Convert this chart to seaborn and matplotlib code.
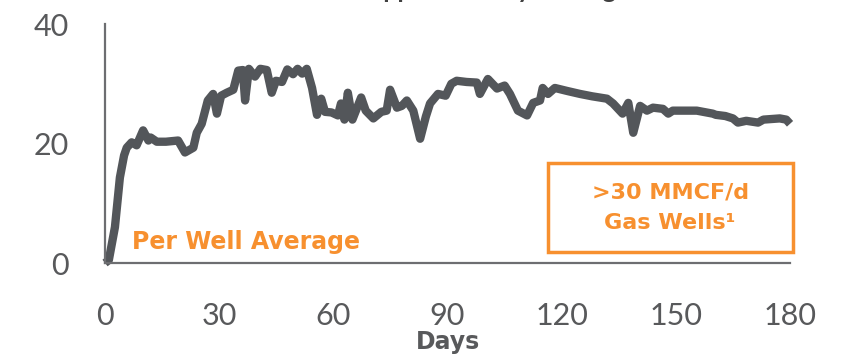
import matplotlib
matplotlib.use("Agg")
import matplotlib.pyplot as plt
from matplotlib.patches import Rectangle
import seaborn as sns
import pandas as pd

# Average daily gas rate per well over the first 180 days
days = [0, 1, 2.6, 3.9, 5, 5.7, 7, 8.3, 10, 11.4, 12, 13.6, 16, 19.2, 21, 23.2,
        24.1, 25.4, 27, 28.4, 29.4, 30.5, 32, 33.7, 35, 36.2, 36.8, 37.8, 39.4,
        40.8, 42.5, 43.8, 44.9, 46.5, 47.9, 49.4, 50.6, 51.8, 53, 54.4, 55.7,
        56.8, 57.8, 59.5, 61.2, 62, 62.9, 63.8, 65, 67.3, 68.5, 70.5, 72.6, 74,
        74.9, 76.7, 78, 79.3, 81, 82.8, 84.3, 85.4, 87.5, 89.5, 91, 92.4, 95,
        97.7, 98.5, 100.6, 103, 105, 106.4, 108.5, 110.9, 112.5, 114.3, 115,
        116.4, 118.2, 121.4, 124.8, 128, 131.9, 133.5, 136, 137.5, 138.8,
        140.6, 142.4, 144, 146.6, 148, 149.2, 152, 155.5, 159.7, 160.5, 163,
        165, 166.3, 168.5, 171.6, 173, 177.3, 179, 180]
rate = [0, 0.5, 6, 14.3, 18, 19.3, 20.2, 19.7, 22.2, 20.5, 21, 20.3, 20.3, 20.5,
        18.5, 19.3, 21.8, 23.3, 27.2, 28.3, 25, 28, 28.5, 29, 32.2, 32.3, 27.2,
        32.5, 31.2, 32.5, 32.3, 28.5, 30.5, 30.3, 32.4, 31.6, 32.5, 31.7, 32.5,
        29.3, 24.8, 27.5, 25.3, 25.2, 24.7, 26.7, 24, 28.5, 24, 27.7, 25.5,
        24.2, 25.3, 25.5, 29, 26, 26.3, 27.2, 25.5, 20.8, 24.5, 26.7, 28.3, 28,
        30, 30.5, 30.3, 30.2, 28.3, 30.8, 29.2, 29.7, 28.3, 25.5, 24.7, 26.8,
        27.2, 29.3, 28.3, 29.3, 28.8, 28.3, 27.9, 27.5, 26.7, 25, 26.8, 21.8,
        26.3, 25.5, 26, 25.8, 25, 25.5, 25.5, 25.5, 25, 24.8, 24.6, 24.2, 23.5,
        23.8, 23.5, 24, 24.2, 24, 23.3]

x_ticks = [0, 30, 60, 90, 120, 150, 180]
y_ticks = [0, 20, 40]

LINE = "#53565a"
ORANGE = "#f7902f"
AXIS = "#6d6e71"
TEXT = "#58595b"
BOLD = ["DejaVu Sans"]

sns.set_style("white")
plt.rcParams["font.family"] = ["Lato", "DejaVu Sans"]

fig = plt.figure(figsize=(8.41, 3.60), dpi=100)
ax = fig.add_axes([0.1249, 0.2694, 0.8145, 0.6639])

df = pd.DataFrame({"Days": days, "Rate": rate})
sns.lineplot(data=df, x="Days", y="Rate", ax=ax, color=LINE, linewidth=6,
             solid_joinstyle="round", solid_capstyle="butt", clip_on=False)

ax.set_xlim(0, 180)
ax.set_ylim(0, 40)
ax.set_xticks(x_ticks)
ax.set_yticks(y_ticks)
ax.set_xticklabels([str(t) for t in x_ticks])
ax.set_yticklabels([str(t) for t in y_ticks])

for side in ("top", "right"):
    ax.spines[side].set_visible(False)
for side in ("left", "bottom"):
    ax.spines[side].set_color(AXIS)
    ax.spines[side].set_linewidth(1.6)

ax.tick_params(axis="both", which="major", direction="out", length=9,
               width=1.6, color=AXIS, labelcolor=TEXT, labelsize=22)
ax.tick_params(axis="x", pad=19)
ax.tick_params(axis="y", pad=17)

ax.set_xlabel("Days", fontsize=17, fontweight="bold", color=TEXT, labelpad=0,
              family=BOLD)
ax.set_ylabel("")

# Series caption
ax.text(7.0, 2.4, "Per Well Average", color=ORANGE, fontsize=17,
        fontweight="bold", ha="left", va="baseline", family=BOLD)

# Well-class callout box
ax.add_patch(Rectangle((116.4, 1.85), 64.3, 14.85, facecolor="white",
                       edgecolor=ORANGE, linewidth=2.5, clip_on=False,
                       zorder=3))
ax.text(148.5, 11.8, ">30 MMCF/d", color=ORANGE, fontsize=16,
        fontweight="bold", ha="center", va="center", family=BOLD, zorder=4)
ax.text(148.5, 6.7, "Gas Wells\u00b9", color=ORANGE, fontsize=16,
        fontweight="bold", ha="center", va="center", family=BOLD, zorder=4)

# Heading sits above the top edge; only its lower part shows
fig.text(0.592, 1.005, "Approximately Average", color="#404040",
         fontsize=18, fontweight="bold", ha="center", va="baseline")

fig.savefig("out.png", dpi=100)
